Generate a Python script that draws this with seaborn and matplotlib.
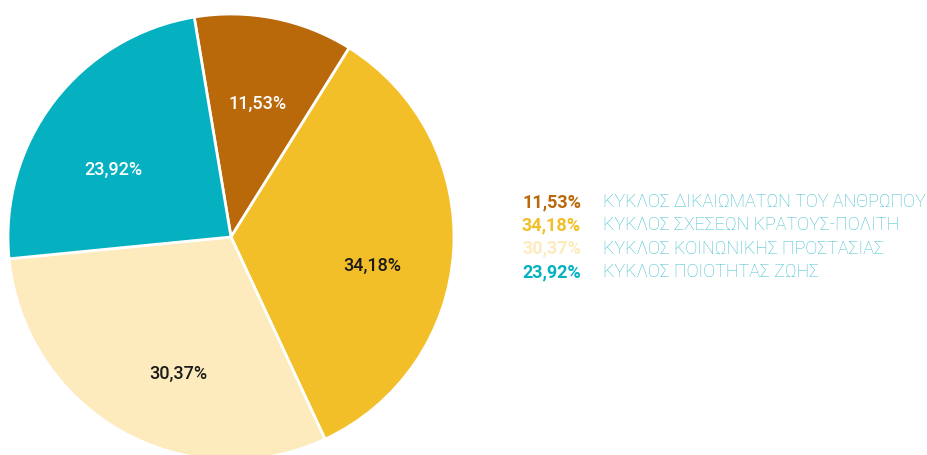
import matplotlib
matplotlib.use("Agg")
import matplotlib.pyplot as plt
import seaborn as sns

# data
categories = [
    "ΚΥΚΛΟΣ ΔΙΚΑΙΩΜΑΤΩΝ ΤΟΥ ΑΝΘΡΩΠΟΥ",
    "ΚΥΚΛΟΣ ΣΧΕΣΕΩΝ ΚΡΑΤΟΥΣ-ΠΟΛΙΤΗ",
    "ΚΥΚΛΟΣ ΚΟΙΝΩΝΙΚΗΣ ΠΡΟΣΤΑΣΙΑΣ",
    "ΚΥΚΛΟΣ ΠΟΙΟΤΗΤΑΣ ΖΩΗΣ",
]
shares = [11.53, 34.18, 30.37, 23.92]
colors = ["#B9680A", "#F3BF28", "#FDEBBE", "#05B1C0"]
label_colors = ["white", "#1a1a1a", "#1a1a1a", "white"]
# where each in-slice label sits (axes data units, pie radius = 1)
label_pos = [(0.121, 0.596), (0.632, -0.130), (-0.238, -0.614), (-0.529, 0.300)]

sns.set_style("white")
plt.rcParams["font.family"] = ["Roboto", "DejaVu Sans"]

fig = plt.figure(figsize=(9.28, 4.55), dpi=100)
ax = fig.add_axes([8 / 928, -5 / 455, 446 / 928, 446 / 455])

def fmt(v):
    return f"{v:.2f}".replace(".", ",") + "%"

wedges, texts = ax.pie(
    shares,
    colors=colors,
    startangle=99.5,
    counterclock=False,
    labels=[fmt(v) for v in shares],
    labeldistance=0.63,
    wedgeprops=dict(edgecolor="white", linewidth=2),
    textprops=dict(fontsize=13, fontweight="medium"),
)
for t, c, p in zip(texts, label_colors, label_pos):
    t.set_color(c)
    t.set_ha("center")
    t.set_va("center")
    t.set_position(p)
ax.set_xlim(-1, 1)
ax.set_ylim(-1, 1)
ax.set_aspect("equal")
ax.axis("off")

# legend as text rows
y0 = 1 - 202 / 455
dy = 23.4 / 455
for i, (name, v, c) in enumerate(zip(categories, shares, colors)):
    y = y0 - i * dy
    fig.text(581 / 928, y, fmt(v), color=c, fontsize=13, fontweight="bold",
             ha="right", va="center")
    fig.text(603 / 928, y, name, color="#3DBFCE", fontsize=13, fontweight="light",
             ha="left", va="center")

fig.savefig("out.png", dpi=100)
